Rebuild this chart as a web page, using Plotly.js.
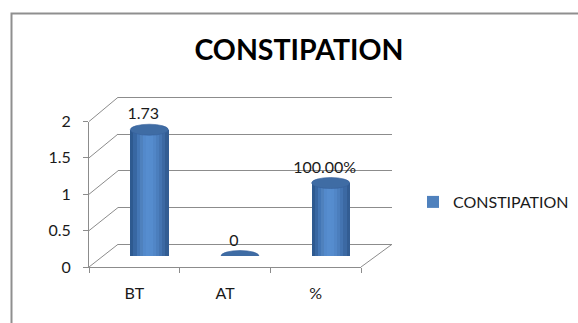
<!DOCTYPE html>
<html><head><meta charset="utf-8">
<script src="https://cdn.plot.ly/plotly-3.0.1.min.js"></script>
<style>html,body{margin:0;padding:0;background:#fff;overflow:hidden}#chart{width:578px;height:323px}</style>
</head><body><div id="chart"></div>
<script>
// ---- data ----
const categories = ['BT', 'AT', '%'];
const values = [1.73, 0, 1.0];
const valueLabels = ['1.73', '0', '100.00%'];
const seriesName = 'CONSTIPATION';
const chartTitle = 'CONSTIPATION';
const yTicks = [0, 0.5, 1, 1.5, 2];
const yTickText = ['0', '0.5', '1', '1.5', '2'];

// ---- geometry / style ----
const W = 578, H = 323;
const FONT = 'Lato, "Open Sans", sans-serif';
const GRID = '#8c8c8c';
const TXT = '#1a1a1a';
const YMAX = 2;
const front = {x0: 89, x1: 361, yb: 267, yt: 121.5};
const back  = {x0: 118, x1: 392, yb: 244.3, yt: 97.3};
const mid   = {x0: 104, x1: 376, yb: 256, yt: 110};
const lab   = {x0: 98, x1: 370, yb: 249.5, yt: 103.5};
const px = x => x / W, py = y => 1 - y / H;
const dX = b => [px(b.x0), px(b.x1)], dY = b => [py(b.yb), py(b.yt)];
const yAt = (b, v) => b.yb - v * (b.yb - b.yt) / YMAX;
const EPS = 0.03; // small pad so the back wall's end gridlines are kept

const shades = ['#2E5A90','#3867A2','#4376B5','#4F81BD','#5389CB','#568DCF',
                '#558CCE','#5186C7','#4B7EBD','#4474B1','#3C69A3','#335D93'];
const barW = 0.42;
const capH = 5.5 / ((mid.yb - mid.yt) / YMAX);

const traces = [];
// carriers so the front axes and back wall are laid out (draw nothing)
traces.push({type: 'scatter', mode: 'none', x: categories, y: values, xaxis: 'x', yaxis: 'y', showlegend: false, hoverinfo: 'skip'});
traces.push({type: 'scatter', mode: 'none', x: categories, y: values, xaxis: 'x2', yaxis: 'y2', showlegend: false, hoverinfo: 'skip'});
shades.forEach((c, k) => {
  traces.push({
    type: 'bar', x: categories, y: values, xaxis: 'x3', yaxis: 'y3',
    width: barW / shades.length + 0.004,
    offset: -barW / 2 + k * barW / shades.length,
    marker: {color: c, line: {width: 0}},
    name: seriesName, showlegend: k === 3, hoverinfo: 'skip'
  });
});
traces.push({
  type: 'scatter', mode: 'text', x: categories, y: values, text: valueLabels,
  textposition: 'top center', xaxis: 'x4', yaxis: 'y4', cliponaxis: false,
  textfont: {family: FONT, size: 16, color: TXT}, showlegend: false, hoverinfo: 'skip'
});

const shapes = [];
// chart border
shapes.push({type: 'rect', xref: 'paper', yref: 'paper', x0: px(11.5), y0: py(340), x1: px(600), y1: py(13.5),
  line: {color: '#8f8f8f', width: 2}, fillcolor: 'rgba(0,0,0,0)', layer: 'below'});
// side-wall diagonals
yTicks.forEach(v => {
  shapes.push({type: 'line', xref: 'paper', yref: 'paper', layer: 'below',
    x0: px(front.x0), y0: py(yAt(front, v)), x1: px(back.x0), y1: py(yAt(back, v)),
    line: {color: GRID, width: 1}});
});
// floor right edge
shapes.push({type: 'line', xref: 'paper', yref: 'paper', layer: 'below',
  x0: px(front.x1), y0: py(front.yb), x1: px(back.x1), y1: py(back.yb), line: {color: GRID, width: 1}});
// cylinder caps
const K = 0.5523;
values.forEach((v, i) => {
  const x0 = i - barW / 2, x1 = i + barW / 2, rx = barW / 2;
  if (v > 0) {
    const p = `M${x0},0 C${x0},${-K * capH} ${i - K * rx},${-capH} ${i},${-capH} ` +
              `C${i + K * rx},${-capH} ${x1},${-K * capH} ${x1},0 Z`;
    shapes.push({type: 'path', xref: 'x3', yref: 'y3', layer: 'above', path: p,
      fillcolor: '#4779B8', line: {width: 0}});
  }
  shapes.push({type: 'circle', xref: 'x3', yref: 'y3', layer: 'above',
    x0: x0, x1: x1, y0: v - capH, y1: v + capH,
    fillcolor: '#3F6CA4', line: {color: '#36609A', width: 0.6}});
});

const hidden = {visible: false, fixedrange: true};
const layout = {
  width: W, height: H, autosize: false,
  margin: {l: 0, r: 0, t: 0, b: 0, pad: 0},
  paper_bgcolor: '#ffffff', plot_bgcolor: 'rgba(0,0,0,0)',
  barmode: 'overlay', bargap: 0,
  font: {family: FONT, color: TXT, size: 16},
  title: {text: '<b>' + chartTitle + '</b>', font: {family: FONT, size: 28.5, color: '#000'},
    x: px(299), xanchor: 'center', xref: 'paper', y: py(50), yanchor: 'middle', yref: 'container'},
  xaxis: {domain: dX(front), anchor: 'y', type: 'category', categoryorder: 'array', categoryarray: categories, range: [-0.5, 2.5],
    showline: true, linecolor: GRID, linewidth: 1, ticks: 'outside', tickson: 'boundaries',
    ticklen: 5, tickcolor: GRID, showgrid: false, zeroline: false, ticklabelstandoff: 12,
    tickfont: {family: FONT, size: 16, color: TXT}, fixedrange: true},
  yaxis: {domain: dY(front), anchor: 'x', range: [0, YMAX], tickvals: yTicks, ticktext: yTickText,
    showline: true, linecolor: GRID, linewidth: 1, ticks: 'outside', ticklen: 5, tickcolor: GRID,
    showgrid: false, zeroline: false, ticklabelstandoff: 9,
    tickfont: {family: FONT, size: 16, color: TXT}, fixedrange: true},
  xaxis2: {domain: dX(back), anchor: 'y2', type: 'category', categoryorder: 'array', categoryarray: categories, range: [-0.5, 2.5],
    showline: false, showgrid: false, zeroline: false, showticklabels: false, ticks: '', fixedrange: true},
  yaxis2: {domain: [py(yAt(back, -EPS)), py(yAt(back, YMAX + EPS))], anchor: 'x2', range: [-EPS, YMAX + EPS],
    tickvals: yTicks, showgrid: true, gridcolor: GRID, gridwidth: 1, showticklabels: false, ticks: '',
    showline: false, zeroline: false, fixedrange: true},
  xaxis3: Object.assign({domain: dX(mid), anchor: 'y3', type: 'category', categoryorder: 'array', categoryarray: categories, range: [-0.5, 2.5]}, hidden),
  yaxis3: Object.assign({domain: dY(mid), anchor: 'x3', range: [0, YMAX]}, hidden),
  xaxis4: Object.assign({domain: dX(lab), anchor: 'y4', type: 'category', categoryorder: 'array', categoryarray: categories, range: [-0.5, 2.5]}, hidden),
  yaxis4: Object.assign({domain: dY(lab), anchor: 'x4', range: [0, YMAX]}, hidden),
  showlegend: true,
  legend: {x: px(413), xanchor: 'left', y: py(202), yanchor: 'middle', bgcolor: 'rgba(0,0,0,0)',
    font: {family: FONT, size: 16, color: TXT}},
  shapes: shapes
};
Plotly.newPlot('chart', traces, layout, {displayModeBar: false, staticPlot: true});
</script></body></html>
